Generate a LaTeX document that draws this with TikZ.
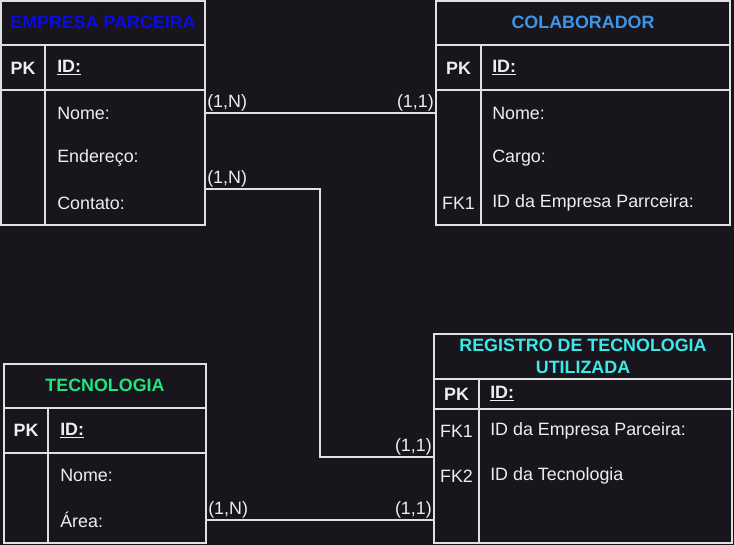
\documentclass[tikz,border=0pt]{standalone}
\usepackage{fontspec}
\setmainfont{Liberation Sans}
\definecolor{fundo}{HTML}{18151D}
\definecolor{traco}{HTML}{E0E0E0}
\definecolor{texto}{HTML}{EEEEEE}
\definecolor{azulEmp}{HTML}{0A0AE6}
\definecolor{azulCol}{HTML}{3D95E8}
\definecolor{verdeTec}{HTML}{1EE67C}
\definecolor{cianoReg}{HTML}{3DE8E8}

\begin{document}
\begin{tikzpicture}[x=0.75pt,y=0.75pt,yscale=-1,xscale=1,
  every node/.style={font=\fontsize{13.4}{16.5}\selectfont, text=texto},
  caixa/.style={draw=traco, line width=1pt, inner sep=0pt, outer sep=0pt},
  titulo/.style={font=\fontsize{13.4}{16.5}\selectfont\bfseries, align=center},
  chave/.style={inner sep=0.75pt, font=\fontsize{13.4}{16.5}\selectfont\bfseries},
  campo/.style={anchor=west, inner sep=0.75pt},
  card/.style={inner sep=1.5pt},
  linha/.style={draw=traco, line width=1pt}]
%set diagram size 734 x 545
\fill[fundo] (0,0) rectangle (734,545);

%Shape: Table [Empresa Parceira]
\node[caixa, minimum width=153pt, minimum height=168pt] (empresa) at (103,113) {};
\draw[linha] (1,45) -- (205,45) (1,90) -- (205,90) (45,45) -- (45,225);
%Shape: Table [Colaborador]
\node[caixa, minimum width=220.5pt, minimum height=168pt] (colab) at (583,113) {};
\draw[linha] (436,45) -- (730,45) (436,90) -- (730,90) (481,45) -- (481,225);
%Shape: Table [Tecnologia]
\node[caixa, minimum width=151.5pt, minimum height=134.25pt] (tecnologia) at (105,453.5) {};
\draw[linha] (4,408) -- (206,408) (4,453) -- (206,453) (48,408) -- (48,543);
%Shape: Table [Registro de Tecnologia Utilizada]
\node[caixa, minimum width=223.5pt, minimum height=156.75pt] (registro) at (583,438.5) {};
\draw[linha] (434,379) -- (732,379) (434,409) -- (732,409) (479,379) -- (479,543);

% Text Node
\node[titulo, text=azulEmp] (empTit) at (103,22) {EMPRESA PARCEIRA};
\node[chave] (empPK) at (23,68) {PK};
\node[campo, font=\fontsize{13.4}{16.5}\selectfont\bfseries] (empID) at (56,68) {\underline{ID:}};
\node[campo] (empNome) at (56,113) {Nome:};
\node[campo] (empEnd) at (56,158) {Endereço:};
\node[campo] (empCont) at (56,203) {Contato:};

% Text Node
\node[titulo, text=azulCol] (colTit) at (583,22) {COLABORADOR};
\node[chave] (colPK) at (458.5,68) {PK};
\node[campo, font=\fontsize{13.4}{16.5}\selectfont\bfseries] (colID) at (491,68) {\underline{ID:}};
\node[campo] (colNome) at (491,113) {Nome:};
\node[campo] (colCargo) at (491,158) {Cargo:};
\node[inner sep=0.75pt] (colFK) at (458.5,203) {FK1};
\node[campo] (colEmp) at (491,203) {ID da Empresa Parrceira:};

% Text Node
\node[titulo, text=verdeTec] (tecTit) at (105,385) {TECNOLOGIA};
\node[chave] (tecPK) at (26,430.5) {PK};
\node[campo, font=\fontsize{13.4}{16.5}\selectfont\bfseries] (tecID) at (59,430.5) {\underline{ID:}};
\node[campo] (tecNome) at (59,475) {Nome:};
\node[campo] (tecArea) at (59,520) {Área:};

% Text Node
\node[titulo, text=cianoReg] (regTit) at (583,356) {REGISTRO DE TECNOLOGIA\\UTILIZADA};
\node[chave] (regPK) at (456.5,394) {PK};
\node[campo, font=\fontsize{13.4}{16.5}\selectfont\bfseries] (regID) at (489,394) {\underline{ID:}};
\node[inner sep=0.75pt] (regFK1) at (456.5,431) {FK1};
\node[campo] (regEmp) at (489,431) {ID da Empresa Parceira:};
\node[inner sep=0.75pt] (regFK2) at (456.5,476) {FK2};
\node[campo] (regTec) at (489,476) {ID da Tecnologia};

%Connectors
\coordinate (saidaEmp) at (empresa.east |- 0,189);
\coordinate (dobra) at (320,320);
\coordinate (chegadaReg) at (registro.west |- 0,457);
\draw[linha] (empresa.east |- empNome) -- (colab.west |- empNome);
\draw[linha] (saidaEmp) -| (dobra) |- (chegadaReg);
\draw[linha] (tecnologia.east |- tecArea) -- (registro.west |- tecArea);

% Cardinalities
\node[card, anchor=south west] (c1) at (empresa.east |- empNome) {(1,N)};
\node[card, anchor=south east] (c2) at (colab.west |- empNome) {(1,1)};
\node[card, anchor=south west] (c3) at (saidaEmp) {(1,N)};
\node[card, anchor=south east] (c4) at (chegadaReg) {(1,1)};
\node[card, anchor=south west] (c5) at (tecnologia.east |- tecArea) {(1,N)};
\node[card, anchor=south east] (c6) at (registro.west |- tecArea) {(1,1)};

\end{tikzpicture}
\end{document}
